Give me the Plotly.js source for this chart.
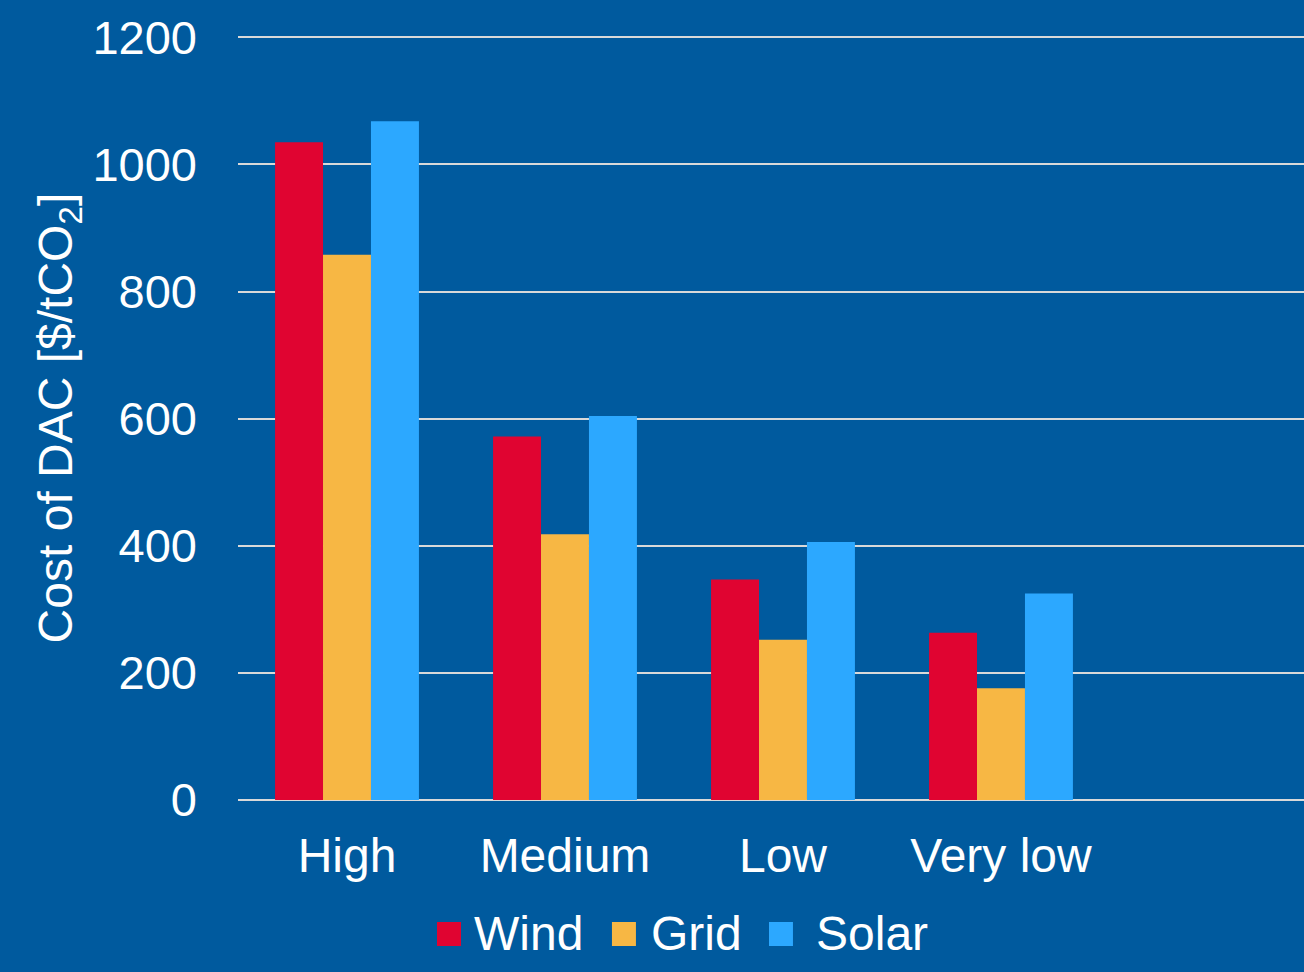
<!DOCTYPE html>
<html>
<head>
<meta charset="utf-8">
<script src="https://cdn.plot.ly/plotly-3.0.1.min.js"></script>
<style>html,body{margin:0;padding:0;background:#005A9E;}#chart{width:1304px;height:972px;}</style>
</head>
<body>
<div id="chart"></div>
<script>
const categories = ["High", "Medium", "Low", "Very low"];
const seriesNames = ["Wind", "Grid", "Solar"];
const windValues = [1035, 572, 347, 263];
const gridValues = [858, 418, 252, 176];
const solarValues = [1068, 604, 406, 325];
const yTickValues = [0, 200, 400, 600, 800, 1000, 1200];
const colors = ["#E00431", "#F7B744", "#2CA8FF"];

const valuesList = [windValues, gridValues, solarValues];
const traces = seriesNames.map((name, i) => ({
  type: "bar",
  name: name,
  x: categories,
  y: valuesList[i],
  marker: {color: colors[i]},
  showlegend: false,
  hoverinfo: "x+y+name"
}));

const font = {family: "Liberation Sans, Arial, sans-serif", color: "#FFFFFF"};

// Legend drawn as layout decorations (squares + labels) below the plot
const legendSquareX = [0.1867, 0.3508, 0.4981];
const legendTextX = [0.2195, 0.3856, 0.5404];
const legendShapes = seriesNames.map((name, i) => ({
  type: "rect",
  xref: "paper", yref: "paper",
  x0: legendSquareX[i], x1: legendSquareX[i] + 0.0225,
  y0: -0.1597, y1: -0.1911,
  fillcolor: colors[i],
  line: {width: 0},
  layer: "above"
}));
const legendLabels = seriesNames.map((name, i) => ({
  text: name,
  xref: "paper", yref: "paper",
  x: legendTextX[i], y: -0.1741,
  xanchor: "left", yanchor: "middle",
  showarrow: false,
  font: Object.assign({size: 48}, font)
}));

const layout = {
  width: 1304,
  height: 972,
  paper_bgcolor: "#005A9E",
  plot_bgcolor: "#005A9E",
  font: Object.assign({size: 48}, font),
  barmode: "group",
  bargap: 0.34,
  bargroupgap: 0,
  margin: {l: 238, r: 0, t: 36, b: 172, pad: 0},
  showlegend: false,
  shapes: legendShapes,
  annotations: legendLabels,
  xaxis: {
    type: "category",
    range: [-0.5, 4.39],
    showgrid: false,
    zeroline: false,
    showline: false,
    ticks: "",
    tickfont: Object.assign({size: 48}, font),
    ticklabelstandoff: 23,
    fixedrange: true
  },
  yaxis: {
    range: [0, 1202],
    tickvals: yTickValues,
    ticktext: yTickValues.map(String),
    showgrid: true,
    gridcolor: "#D9D9D9",
    gridwidth: 2,
    zeroline: true,
    zerolinecolor: "#D9D9D9",
    zerolinewidth: 2,
    showline: false,
    ticks: "",
    tickfont: Object.assign({size: 47}, font),
    ticklabelstandoff: 40,
    title: {
      text: "Cost of DAC [$/tCO<sub>2</sub>]",
      font: Object.assign({size: 48}, font),
      standoff: 4
    },
    fixedrange: true
  }
};

Plotly.newPlot("chart", traces, layout, {displayModeBar: false, staticPlot: true});
</script>
</body>
</html>
